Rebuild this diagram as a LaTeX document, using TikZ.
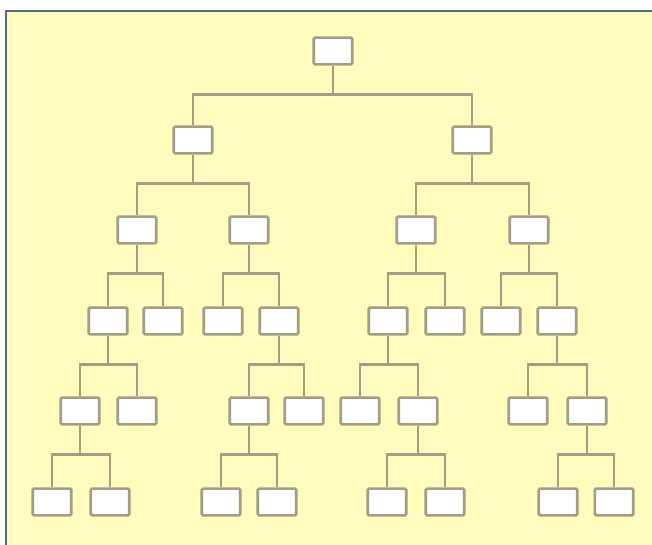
\documentclass[tikz,border=0pt]{standalone}
\usepackage{xcolor}
\definecolor{paper}{HTML}{FFFCBD}
\definecolor{frameline}{HTML}{4F6E84}
\definecolor{linkgray}{HTML}{A29E84}
\usetikzlibrary{positioning}

\tikzset{
  leafbox/.style={draw=linkgray, line width=0.065cm, fill=white, rounded corners=1pt,
    minimum width=0.96cm, minimum height=0.67cm, inner sep=0pt},
  link/.style={draw=linkgray, line width=0.065cm}
}

\begin{document}
\begin{tikzpicture}[x=0.025cm, y=-0.025cm]
  \useasboundingbox (0,0) rectangle (652,545);
  % background panel
  \fill[paper] (6,11) rectangle (652,545);
  \draw[frameline, line width=0.06cm] (6,545) -- (6,11) -- (652,11);

  % level 0 and 1
  \node[leafbox] (t)   at (333,51)  {};
  \node[leafbox] (tl)  at (193,140) {};
  \node[leafbox] (tr)  at (472,140) {};
  % level 2
  \node[leafbox] (tll) at (137,230) {};
  \node[leafbox] (tlr) at (249,230) {};
  \node[leafbox] (trl) at (416,230) {};
  \node[leafbox] (trr) at (529,230) {};
  % level 3
  \node[leafbox] (tlll) at (108,321) {};
  \node[leafbox] (tllr) at (163,321) {};
  \node[leafbox] (tlrl) at (223,321) {};
  \node[leafbox] (tlrr) at (279,321) {};
  \node[leafbox] (trll) at (388,321) {};
  \node[leafbox] (trlr) at (445,321) {};
  \node[leafbox] (trrl) at (501,321) {};
  \node[leafbox] (trrr) at (557,321) {};
  % level 4
  \node[leafbox] (tllll) at (80,411)  {};
  \node[leafbox] (tlllr) at (137,411) {};
  \node[leafbox] (tlrrl) at (249,411) {};
  \node[leafbox] (tlrrr) at (304,411) {};
  \node[leafbox] (trlll) at (360,411) {};
  \node[leafbox] (trllr) at (418,411) {};
  \node[leafbox] (trrrl) at (528,411) {};
  \node[leafbox] (trrrr) at (587,411) {};
  % level 5
  \node[leafbox] (tlllll) at (52,502)  {};
  \node[leafbox] (tllllr) at (110,502) {};
  \node[leafbox] (tlrrll) at (221,502) {};
  \node[leafbox] (tlrrlr) at (277,502) {};
  \node[leafbox] (trllrl) at (387,502) {};
  \node[leafbox] (trllrr) at (445,502) {};
  \node[leafbox] (trrrrl) at (558,502) {};
  \node[leafbox] (trrrrr) at (614,502) {};

  % connectors
  \foreach \p/\c in {t/tl, t/tr,
      tl/tll, tl/tlr, tr/trl, tr/trr,
      tll/tlll, tll/tllr, tlr/tlrl, tlr/tlrr,
      trl/trll, trl/trlr, trr/trrl, trr/trrr,
      tlll/tllll, tlll/tlllr, tlrr/tlrrl, tlrr/tlrrr,
      trll/trlll, trll/trllr, trrr/trrrl, trrr/trrrr,
      tllll/tlllll, tllll/tllllr, tlrrl/tlrrll, tlrrl/tlrrlr,
      trllr/trllrl, trllr/trllrr, trrrr/trrrrl, trrrr/trrrrr}
    \draw[link] (\p.south) -- ++(0,29) -| (\c.north);
\end{tikzpicture}
\end{document}
